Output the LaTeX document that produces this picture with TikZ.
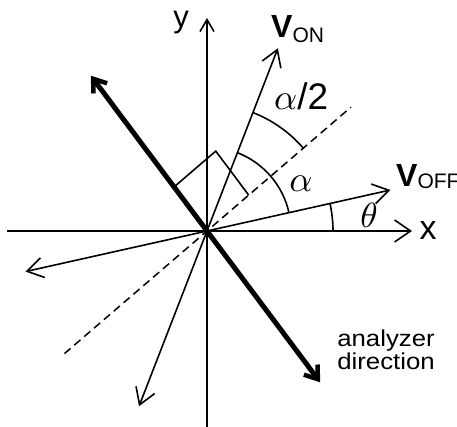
\documentclass[tikz,border=0pt]{standalone}
\usepackage{fontspec}
\usepackage{graphicx}
\setsansfont{Liberation Sans}
\newfontfamily\lblfont[FakeStretch=1.12]{Liberation Sans}
\usetikzlibrary{arrows.meta,calc}
\begin{document}
\begin{tikzpicture}[x=1pt,y=1pt,
  vecline/.style={line width=1.6pt,-{Straight Barb[length=16pt,width=20pt,line width=1.6pt]}},
  axisline/.style={line width=1.6pt},
  bigarrow/.style={line width=5pt,{Straight Barb[length=12pt,width=17pt,line width=4.5pt]}-{Straight Barb[length=12pt,width=17pt,line width=4.5pt]}},
  dashline/.style={line width=1.5pt,dash pattern=on 8pt off 5pt},
  markline/.style={line width=1.6pt},
  sflbl/.style={inner sep=0pt,font=\sffamily}]
\useasboundingbox (0,0) rectangle (457,427);
\coordinate (O) at (207,196);
% axes
\coordinate (xl) at (7,196);
\coordinate (xr) at (412,196);
\coordinate (yb) at (207,0);
\coordinate (yt) at (207,409);
\draw[axisline,-{Straight Barb[length=16pt,width=22pt,line width=1.6pt]}] (xl) -- (xr);
\draw[axisline,-{Straight Barb[length=12pt,width=14pt,line width=1.6pt]}] (yb) -- (yt);
% vectors
\coordinate (von) at ($(O)+(68.8:196)$);
\coordinate (voff) at ($(O)+(12.6:188)$);
\coordinate (voffm) at ($(O)+(192.6:186)$);
\coordinate (vonm) at ($(O)+(248.8:188)$);
\draw[vecline] (O) -- (von);
\draw[vecline] (O) -- (voff);
\draw[vecline] (O) -- (voffm);
\draw[vecline] (O) -- (vonm);
% bisector
\coordinate (d1) at ($(O)+(40.7:190)$);
\coordinate (d2) at ($(O)+(220.7:188)$);
\draw[dashline] (d2) -- (d1);
% analyzer
\coordinate (an1) at ($(O)+(126.8:194)$);
\coordinate (an2) at ($(O)+(-53.2:189)$);
\draw[bigarrow] (an1) -- (an2);
% right angle mark
\coordinate (ra) at ($(O)+(126.8:55)$);
\coordinate (rb) at ($(O)+(40.7:55)$);
\coordinate (rc) at ($(ra)+(rb)-(O)$);
\draw[markline] (ra) -- (rc) -- (rb);
% arcs
\coordinate (th0) at ($(O)+(0:126)$);
\draw[markline] (th0) arc[start angle=0,end angle=12.6,radius=126];
\coordinate (al0) at ($(O)+(12.6:84)$);
\draw[markline] (al0) arc[start angle=12.6,end angle=68.8,radius=84];
\coordinate (ah0) at ($(O)+(68.8:127)$);
\draw[markline] (ah0) arc[start angle=68.8,end angle=40.7,radius=127];
% labels
\node[sflbl,anchor=center] (ylab) at (181,404) {\fontsize{31}{31}\selectfont y};
\node[sflbl,anchor=center] (xlab) at (428,196) {\fontsize{34}{34}\selectfont x};
\node[sflbl,anchor=base west] (vonlab) at (271,389)
  {\fontsize{32}{32}\selectfont\bfseries V\raisebox{-5pt}{\fontsize{21}{21}\selectfont\mdseries ON}};
\node[sflbl,anchor=base west] (vofflab) at (396,240)
  {\fontsize{32}{32}\selectfont\bfseries V\raisebox{-2pt}{\fontsize{21}{21}\selectfont\mdseries OFF}};
\node[sflbl,anchor=base west] (ahlab) at (274,317)
  {\scalebox{3.6}{$\alpha$}\fontsize{37}{37}\selectfont/2};
\node[inner sep=0pt] (allab) at (301,243) {\scalebox{3.6}{$\alpha$}};
\node[inner sep=0pt] (thlab) at (369,212) {\scalebox{3.5}{$\theta$}};
\node[inner sep=0pt,anchor=base] (an1lab) at (386,80) {\lblfont\fontsize{23}{23}\selectfont analyzer};
\node[inner sep=0pt,anchor=base] (an2lab) at (386,57) {\lblfont\fontsize{23}{23}\selectfont direction};
\end{tikzpicture}
\end{document}
